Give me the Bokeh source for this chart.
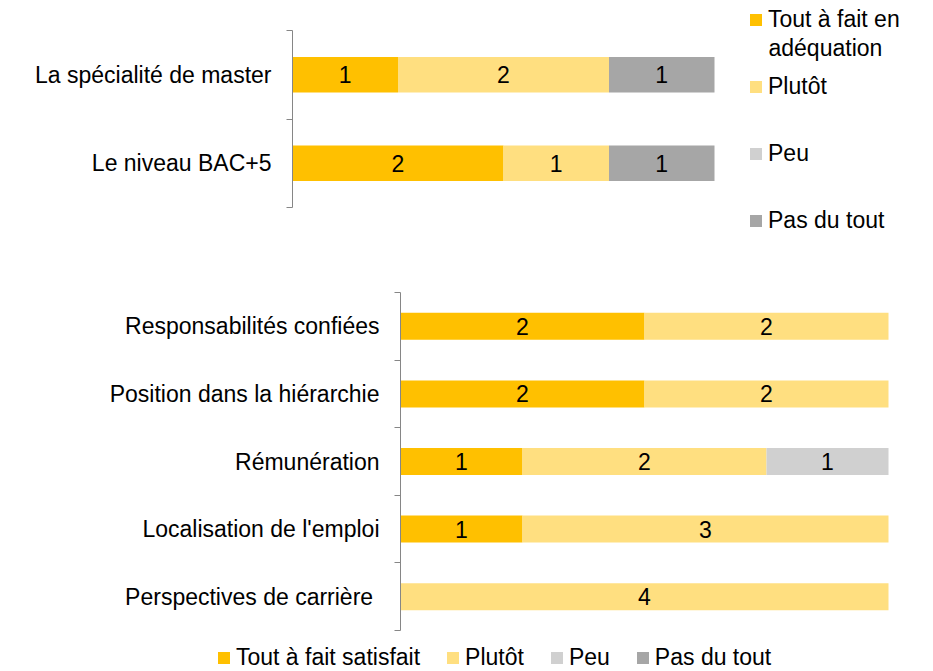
from bokeh.plotting import figure
from bokeh.models import ColumnDataSource, FixedTicker, Legend, LegendItem, Range1d, Label
from bokeh.layouts import column
from bokeh.embed import file_html
from bokeh.resources import INLINE
from bokeh.core.properties import value

FONT = "Liberation Sans"
FS = "23px"

# ---- data ----
top_categories = ["La spécialité de master", "Le niveau BAC+5"]
top_tout = [1, 2]
top_plutot = [2, 1]
top_peu = [0, 0]
top_pas = [1, 1]
top_series = ["Tout à fait en", "Plutôt", "Peu", "Pas du tout"]
top_series_line2 = "adéquation"

bot_categories = ["Responsabilités confiées", "Position dans la hiérarchie", "Rémunération",
                  "Localisation de l'emploi", "Perspectives de carrière "]
bot_tout = [2, 2, 1, 1, 0]
bot_plutot = [2, 2, 2, 3, 4]
bot_peu = [0, 0, 1, 0, 0]
bot_pas = [0, 0, 0, 0, 0]
bot_series = ["Tout à fait satisfait", "Plutôt", "Peu", "Pas du tout"]

x_max = 4
colors = ["#FFC000", "#FFDF80", "#D0D0D0", "#A6A6A6"]
AXIS_COLOR = "#868686"
W = 933


def make_chart(categories, series_values, height, px_x0, px_x1, px_ytop, px_ybot):
    """px_* : pixel positions (inside the figure) of value 0 / x_max and of the
    top / bottom of the category band."""
    n = len(categories)
    ux = (px_x1 - px_x0) / x_max
    uy = (px_ybot - px_ytop) / n
    x_range = Range1d(-px_x0 / ux, (W - px_x0) / ux)
    y_range = Range1d(-(height - px_ybot) / uy, n + px_ytop / uy)

    ys = [n - i - 0.5 for i in range(n)]
    keys = ["s%d" % k for k in range(len(series_values))]
    data = dict(y=ys)
    for k, v in zip(keys, series_values):
        data[k] = v
    src = ColumnDataSource(data)
    p = figure(width=W, height=height, x_range=x_range, y_range=y_range,
               output_backend="svg", toolbar_location=None, x_axis_location=None,
               min_border_left=0, min_border_right=0, min_border_top=0, min_border_bottom=0)
    renderers = p.hbar_stack(keys, y="y", height=0.4, fill_color=colors, line_color=None, source=src)

    tx, ty, tt = [], [], []
    for i in range(n):
        left = 0
        for s in series_values:
            v = s[i]
            if v > 0:
                tx.append(left + v / 2)
                ty.append(ys[i])
                tt.append(str(v))
            left += v
    p.text(x=tx, y=ty, text=tt, text_align="center", text_baseline="middle",
           text_font=value(FONT), text_font_size=FS, text_color="black")

    ax = p.yaxis[0]
    ax.fixed_location = 0
    ax.bounds = (0, n)
    ax.ticker = FixedTicker(ticks=ys, minor_ticks=list(range(n + 1)))
    ax.major_label_overrides = {y: c for y, c in zip(ys, categories)}
    ax.major_tick_line_color = None
    ax.major_tick_in = 0
    ax.major_tick_out = 0
    ax.minor_tick_in = 0
    ax.minor_tick_out = 6
    ax.minor_tick_line_color = AXIS_COLOR
    ax.axis_line_color = AXIS_COLOR
    ax.major_label_text_font = FONT
    ax.major_label_text_font_size = FS
    ax.major_label_text_color = "black"
    ax.major_label_standoff = 15

    p.grid.visible = False
    p.outline_line_color = None
    p.background_fill_color = "white"
    p.border_fill_color = "white"
    return p, renderers


def style_legend(lg):
    lg.glyph_width = 15
    lg.glyph_height = 15
    lg.label_standoff = 5
    lg.padding = 0
    lg.margin = 0
    lg.border_line_color = None
    lg.background_fill_alpha = 0
    lg.label_text_font = FONT
    lg.label_text_font_size = FS
    lg.label_text_color = "black"
    lg.label_height = 26


H1 = 258
p1, r1 = make_chart(top_categories, [top_tout, top_plutot, top_peu, top_pas],
                    H1, 292, 714, 30, 207)
top_locs = [(748, 225), (748, 158), (748, 91), (748, 24)]
for name, r, loc in zip(top_series, r1, top_locs):
    lg = Legend(items=[LegendItem(label=name, renderers=[r])], location=loc, orientation="vertical")
    style_legend(lg)
    p1.add_layout(lg, "center")
p1.add_layout(Label(x=768, y=H1 - 47, x_units="screen", y_units="screen", text=top_series_line2,
                    text_font=FONT, text_font_size=FS, text_color="black",
                    text_baseline="alphabetic"))

H2 = 413
p2, r2 = make_chart(bot_categories, [bot_tout, bot_plutot, bot_peu, bot_pas],
                    H2, 400, 888, 34, 372)
lg2 = Legend(items=[LegendItem(label=n_, renderers=[r]) for n_, r in zip(bot_series, r2)],
             location=(216, 0), orientation="horizontal")
style_legend(lg2)
lg2.spacing = 25
p2.add_layout(lg2, "center")

layout = column(p1, p2, spacing=0)
open("out.html", "w").write(file_html(layout, INLINE))
